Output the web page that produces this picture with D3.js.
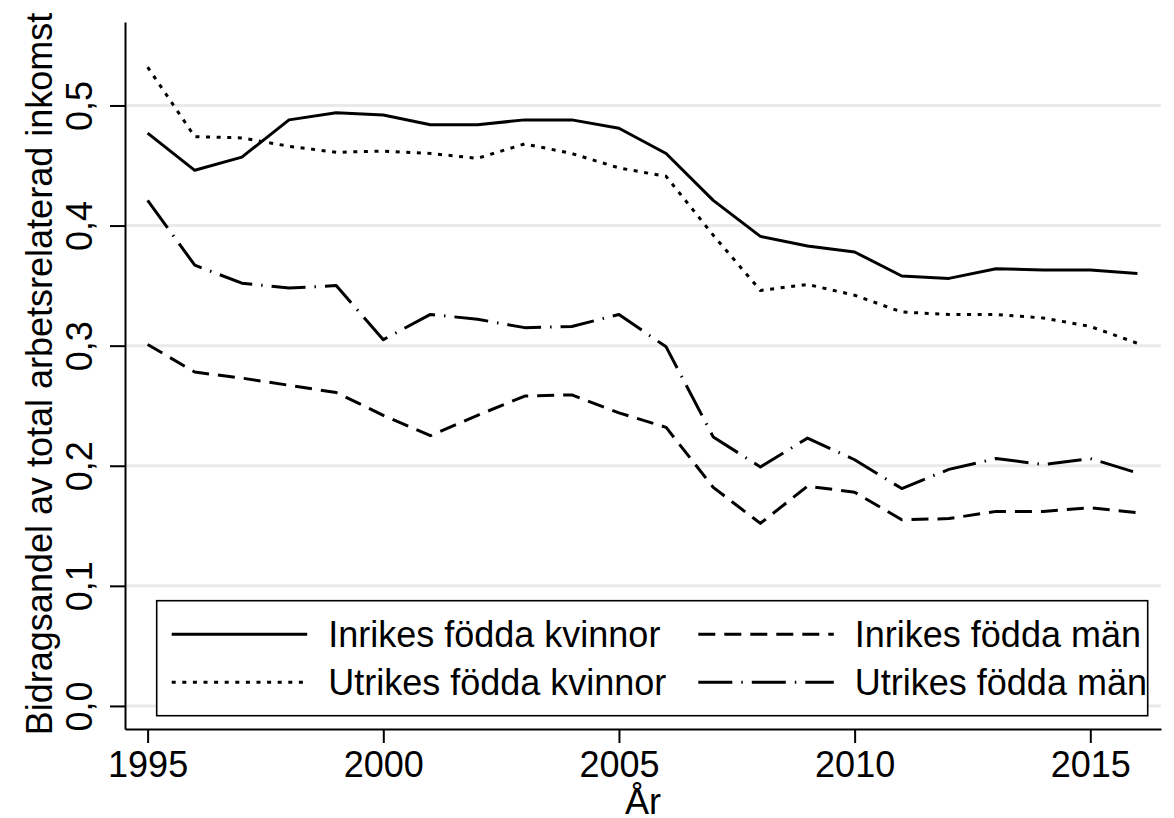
<!DOCTYPE html>
<html>
<head>
<meta charset="utf-8">
<script src="https://cdn.jsdelivr.net/npm/d3@7"></script>
<style>
  body { margin: 0; background: #fff; }
  svg { font-family: "Liberation Sans", Arial, sans-serif; }
</style>
</head>
<body>
<script>
// data

var years = [1995, 1996, 1997, 1998, 1999, 2000, 2001, 2002, 2003, 2004, 2005,
  2006, 2007, 2008, 2009, 2010, 2011, 2012, 2013, 2014, 2015, 2016]

var inrikesKvinnor = [0.477, 0.446, 0.457, 0.488, 0.494, 0.492, 0.484, 0.484, 0.488, 0.488, 0.481,
  0.460, 0.421, 0.391, 0.383, 0.378, 0.358, 0.356, 0.364, 0.363, 0.363, 0.360]
var utrikesKvinnor = [0.532, 0.474, 0.473, 0.466, 0.461, 0.462, 0.460, 0.456, 0.468, 0.460, 0.448,
  0.441, 0.392, 0.346, 0.351, 0.342, 0.328, 0.326, 0.326, 0.323, 0.316, 0.302]
var inrikesMan = [0.301, 0.278, 0.273, 0.267, 0.261, 0.242, 0.225, 0.242, 0.258, 0.259, 0.244,
  0.232, 0.182, 0.152, 0.183, 0.178, 0.155, 0.156, 0.162, 0.162, 0.165, 0.161]
var utrikesMan = [0.421, 0.367, 0.352, 0.348, 0.350, 0.305, 0.326, 0.322, 0.315, 0.316, 0.326,
  0.299, 0.224, 0.199, 0.223, 0.205, 0.181, 0.197, 0.206, 0.201, 0.206, 0.194]

var xTicks = [1995, 2000, 2005, 2010, 2015]
var yTicks = [0, 0.1, 0.2, 0.3, 0.4, 0.5]

var yTitle = 'Bidragsandel av total arbetsrelaterad inkomst'
var xTitle = 'År'

var series = [
  { name: 'Inrikes födda kvinnor', values: inrikesKvinnor, dash: null },
  { name: 'Inrikes födda män', values: inrikesMan, dash: '17,9' },
  { name: 'Utrikes födda kvinnor', values: utrikesKvinnor, dash: '4,6.6' },
  { name: 'Utrikes födda män', values: utrikesMan, dash: '34,9,1.5,9' }
]

// page setup

var chartWidth = 1174
var chartHeight = 818
var fontSize = 36

var svg = d3.select('body').append('svg')
  .attr('width', chartWidth)
  .attr('height', chartHeight)

// plot area edges (note: "top" is taken by window.top)
var plotLeft = 125, plotRight = 1161, plotTop = 22, plotBottom = 729

var x = d3.scaleLinear()
  .domain([1994.52, 2016.5])
  .range([plotLeft, plotRight])

var y = d3.scaleLinear()
  .domain([-0.0192, 0.5695])
  .range([plotBottom, plotTop])

var sv = d3.formatLocale({ decimal: ',', thousands: ' ', grouping: [3], currency: ['', ' kr'] })
var fmt = sv.format('.1f')

// grid

svg.append('g')
  .selectAll('line')
  .data(yTicks)
  .enter()
  .append('line')
  .attr('x1', plotLeft)
  .attr('x2', plotRight)
  .attr('y1', function(d) { return y(d) })
  .attr('y2', function(d) { return y(d) })
  .style('stroke', '#eaeaea')
  .style('stroke-width', 3)

// axes

var yAxis = svg.append('g')
  .attr('transform', `translate(${plotLeft}, 0)`)
  .call(d3.axisLeft(y).tickValues(yTicks).tickSize(15).tickSizeOuter(0).tickFormat(fmt))

yAxis.selectAll('text')
  .attr('transform', 'rotate(-90)')
  .attr('x', 0)
  .attr('y', -33)
  .attr('dy', 0)
  .style('text-anchor', 'middle')

var xAxis = svg.append('g')
  .attr('transform', `translate(0, ${plotBottom})`)
  .call(d3.axisBottom(x).tickValues(xTicks).tickSize(14).tickSizeOuter(0).tickFormat(d3.format('d')))

xAxis.selectAll('text')
  .attr('y', 48)
  .attr('dy', 0)

svg.selectAll('.tick text')
  .style('font-size', fontSize + 'px')
  .style('font-family', '"Liberation Sans", Arial, sans-serif')
  .style('fill', '#000')

svg.selectAll('.domain, .tick line')
  .style('stroke', '#000')
  .style('stroke-width', 2)

// titles

svg.append('text')
  .attr('transform', 'translate(52, 374) rotate(-90)')
  .style('text-anchor', 'middle')
  .style('font-size', fontSize + 'px')
  .text(yTitle)

// x title sits right at the bottom edge, as in the original
svg.append('text')
  .attr('x', (plotLeft + plotRight) / 2)
  .attr('y', 814)
  .style('text-anchor', 'middle')
  .style('font-size', fontSize + 'px')
  .text(xTitle)

// lines

var line = d3.line()
  .x(function(d, i) { return x(years[i]) })
  .y(function(d) { return y(d) })

svg.append('g')
  .selectAll('path')
  .data(series)
  .enter()
  .append('path')
  .attr('d', function(d) { return line(d.values) })
  .style('fill', 'none')
  .style('stroke', '#000')
  .style('stroke-width', 3)
  .style('stroke-linejoin', 'round')
  .style('stroke-dasharray', function(d) { return d.dash })

// legend

var legend = svg.append('g')

legend.append('rect')
  .attr('x', 156.7)
  .attr('y', 600.7)
  .attr('width', 991)
  .attr('height', 115)
  .style('fill', '#fff')
  .style('stroke', '#000')
  .style('stroke-width', 1.6)

var colX = [171.7, 698.3]
var rowY = [634.3, 682.3]

var item = legend.selectAll('.item')
  .data(series)
  .enter()
  .append('g')
  .attr('class', 'item')
  .attr('transform', function(d, i) { return `translate(${colX[i % 2]}, ${rowY[Math.floor(i / 2)]})` })

item.append('line')
  .attr('x1', 0)
  .attr('x2', 135.5)
  .attr('y1', 0)
  .attr('y2', 0)
  .style('stroke', '#000')
  .style('stroke-width', 3)
  .style('stroke-dasharray', function(d) { return d.dash })

item.append('text')
  .attr('x', 156.5)
  .attr('y', 12.5)
  .style('font-size', fontSize + 'px')
  .text(function(d) { return d.name })
</script>
</body>
</html>
